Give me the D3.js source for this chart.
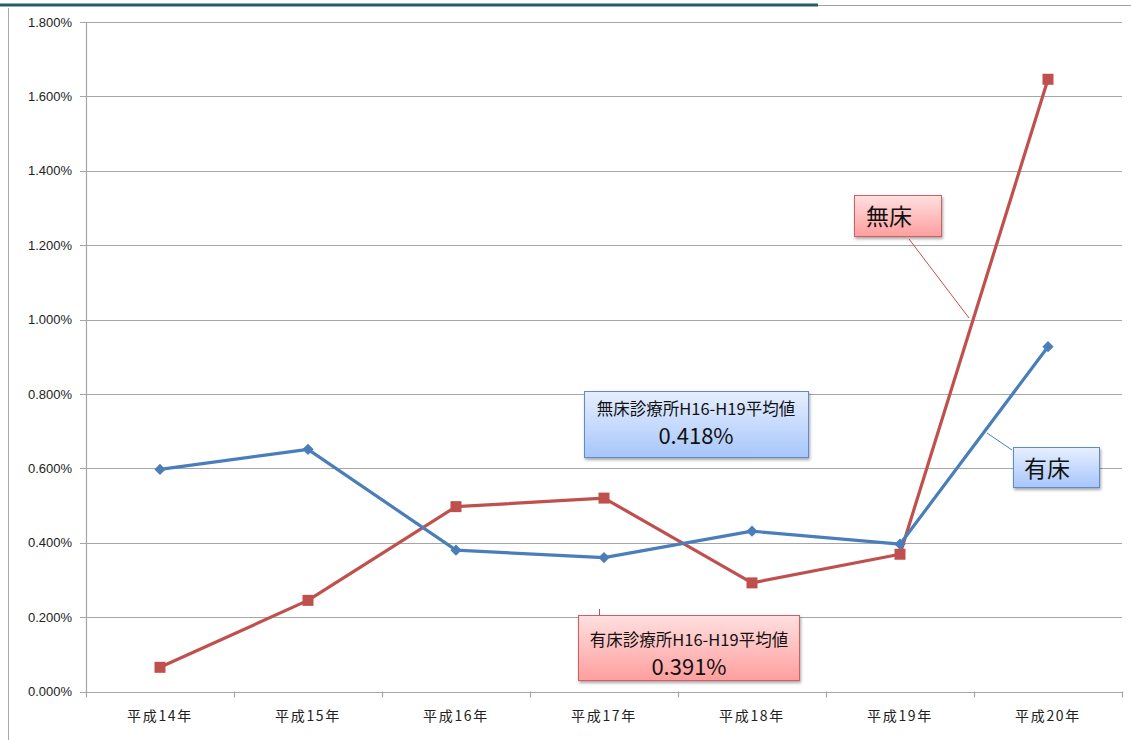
<!DOCTYPE html>
<html><head><meta charset="utf-8">
<script src="https://cdn.jsdelivr.net/npm/d3@7"></script>
<style>
html,body{margin:0;padding:0;background:#fff;}
svg{display:block;font-family:"DejaVu Sans","Noto Sans CJK JP",sans-serif;}
</style></head>
<body>
<svg id="chart" width="1131" height="740"></svg>
<script>
const categories = ["平成14年","平成15年","平成16年","平成17年","平成18年","平成19年","平成20年"];
const yuushou = [0.597, 0.651, 0.380, 0.360, 0.431, 0.396, 0.927];   // 有床 (blue)
const mushou  = [0.065, 0.245, 0.497, 0.520, 0.292, 0.369, 1.646];   // 無床 (red)
const yTicks = [0, 0.2, 0.4, 0.6, 0.8, 1.0, 1.2, 1.4, 1.6, 1.8];
const avgMushou = "0.418%";
const avgYuushou = "0.391%";

const svg = d3.select("#chart");
const x0 = 86, x1 = 1122, yTop = 22, yBot = 691.5;

const x = d3.scaleBand().domain(categories).range([x0, x1]);
const y = d3.scaleLinear().domain([0, 1.8]).range([yBot, yTop]);

const defs = svg.append("defs");
function grad(id, c0, c1){
  const g = defs.append("linearGradient").attr("id", id).attr("x1",0).attr("y1",0).attr("x2",0).attr("y2",1);
  g.append("stop").attr("offset","0%").attr("stop-color",c0);
  g.append("stop").attr("offset","100%").attr("stop-color",c1);
}
grad("gBlue", "#e6efff", "#a7c6fb");
grad("gRed", "#ffe0e0", "#ff9e9e");
const f = defs.append("filter").attr("id","shadow").attr("x","-10%").attr("y","-10%").attr("width","130%").attr("height","140%");
f.append("feDropShadow").attr("dx",1).attr("dy",2).attr("stdDeviation",1.5).attr("flood-color","#000").attr("flood-opacity",0.35);

// top decoration and left frame
svg.append("line").attr("x1",0).attr("x2",1131).attr("y1",5.5).attr("y2",5.5).attr("stroke","#a0a0a0").attr("stroke-width",1);
svg.append("line").attr("x1",0).attr("x2",818).attr("y1",5).attr("y2",5).attr("stroke","#245e6c").attr("stroke-width",3);
svg.append("line").attr("x1",8.5).attr("x2",8.5).attr("y1",8).attr("y2",740).attr("stroke","#a8a8a8").attr("stroke-width",1);

// gridlines
svg.append("g").selectAll("line").data(yTicks).join("line")
  .attr("x1", x0 - 6).attr("x2", x1)
  .attr("y1", d => Math.round(y(d)) + 0.5).attr("y2", d => Math.round(y(d)) + 0.5)
  .attr("stroke", "#a6a6a6").attr("stroke-width", 1.2);

// y axis
const yAxis = d3.axisLeft(y).tickValues(yTicks).tickSize(0).tickPadding(14)
  .tickFormat(d => d.toFixed(3) + "%");
const gy = svg.append("g").attr("transform", `translate(${x0},0)`).call(yAxis)
  .attr("font-size", 13).attr("font-family", "'Liberation Sans', Arial, sans-serif");
gy.select(".domain").attr("stroke","#a6a6a6").attr("stroke-width",1.2);
gy.selectAll("text").style("font-size", "13px").attr("fill", "#222")
  .style("font-family","'Liberation Sans', Arial, sans-serif");

// x axis
const xAxis = d3.axisBottom(x).tickSize(0).tickPadding(20);
const gx = svg.append("g").attr("transform", `translate(0,${yBot})`).call(xAxis);
gx.select(".domain").remove();
gx.selectAll("text").style("font-size", "14px").attr("fill", "#222").attr("letter-spacing", 1.7)
  .style("font-family", "'Noto Sans CJK JP', sans-serif");
svg.append("g").selectAll("line").data(categories.concat(["_end"])).join("line")
  .attr("x1", (d,i) => Math.round(x0 + i * x.bandwidth()) + 0.5)
  .attr("x2", (d,i) => Math.round(x0 + i * x.bandwidth()) + 0.5)
  .attr("y1", yBot).attr("y2", yBot + 6)
  .attr("stroke", "#a6a6a6").attr("stroke-width", 1.2);

const cx = d => x(d) + x.bandwidth() / 2;
const line = d3.line().x((d,i) => cx(categories[i])).y(d => y(d));

// 無床 (red)
svg.append("path").datum(mushou).attr("d", line).attr("fill","none")
  .attr("stroke","#c0504d").attr("stroke-width",3.2).attr("stroke-linejoin","round");
// 有床 (blue)
svg.append("path").datum(yuushou).attr("d", line).attr("fill","none")
  .attr("stroke","#4a7ebb").attr("stroke-width",3.2).attr("stroke-linejoin","round");

svg.append("g").selectAll("rect").data(mushou).join("rect")
  .attr("x", (d,i) => cx(categories[i]) - 5.5).attr("y", d => y(d) - 5.5)
  .attr("width", 11).attr("height", 11).attr("fill", "#c0504d");
svg.append("g").selectAll("path").data(yuushou).join("path")
  .attr("d", d3.symbol().type(d3.symbolDiamond2).size(80))
  .attr("transform", (d,i) => `translate(${cx(categories[i])},${y(d)})`)
  .attr("fill", "#4a7ebb");

// callouts
function box(xp, yp, w, h, fill, stroke){
  svg.append("rect").attr("x", xp).attr("y", yp).attr("width", w).attr("height", h)
    .attr("fill", `url(#${fill})`).attr("stroke", stroke).attr("stroke-width", 1)
    .attr("filter", "url(#shadow)");
}
// connectors
svg.append("line").attr("x1",909).attr("y1",239).attr("x2",969).attr("y2",318).attr("stroke","#c0504d").attr("stroke-width",1);
svg.append("line").attr("x1",987).attr("y1",433).attr("x2",1012).attr("y2",450).attr("stroke","#4a7ebb").attr("stroke-width",1);
svg.append("line").attr("x1",599.5).attr("y1",609).attr("x2",599.5).attr("y2",615).attr("stroke","#c0504d").attr("stroke-width",1);

const cjk = "'Noto Sans CJK JP', sans-serif";
box(584.5, 391.5, 224, 66, "gBlue", "#5d8bd0");
svg.append("text").attr("x", 696).attr("y", 415).attr("text-anchor","middle").attr("font-family", cjk)
  .attr("font-size", 16.5).attr("fill","#111").text("無床診療所H16-H19平均値");
svg.append("text").attr("x", 696).attr("y", 444).attr("text-anchor","middle").attr("font-family", cjk)
  .attr("font-size", 22).attr("fill","#111").text(avgMushou);

box(578.5, 615.5, 221, 65, "gRed", "#d06060");
svg.append("text").attr("x", 689).attr("y", 646).attr("text-anchor","middle").attr("font-family", cjk)
  .attr("font-size", 16.5).attr("fill","#111").text("有床診療所H16-H19平均値");
svg.append("text").attr("x", 689).attr("y", 675).attr("text-anchor","middle").attr("font-family", cjk)
  .attr("font-size", 22).attr("fill","#111").text(avgYuushou);

box(854.5, 195.5, 87, 41, "gRed", "#d06060");
svg.append("text").attr("x", 866).attr("y", 225).attr("font-family", cjk).attr("font-size", 23).attr("fill","#111").text("無床");

box(1013.5, 447.5, 86, 40, "gBlue", "#5d8bd0");
svg.append("text").attr("x", 1024).attr("y", 477).attr("font-family", cjk).attr("font-size", 23).attr("fill","#111").text("有床");
</script>
</body></html>
